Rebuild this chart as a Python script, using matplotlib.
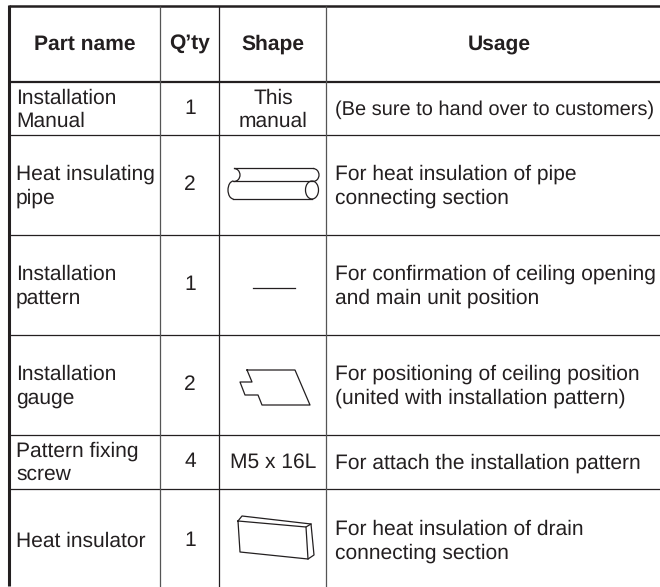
"""Accessory parts table, drawn on a pixel grid."""
import matplotlib.pyplot as plt
from matplotlib.patches import Arc

plt.rcParams['font.family'] = ['Liberation Sans', 'DejaVu Sans']
plt.rcParams['text.hinting'] = 'no_hinting'
plt.rcParams['text.hinting_factor'] = 1

HEADERS = ['Part name', 'Q’ty', 'Shape', 'Usage']
PARTS = ['Installation\nManual', 'Heat insulating\npipe', 'Installation\npattern',
         'Installation\ngauge', 'Pattern fixing\nscrew', 'Heat insulator']
QTY = ['1', '2', '1', '2', '4', '1']
SHAPES = ['This\nmanual', '', '', '', 'M5 x 16L', '']
USAGE = ['(Be sure to hand over to customers)',
         'For heat insulation of pipe\nconnecting section',
         'For confirmation of ceiling opening\nand main unit position',
         'For positioning of ceiling position\n(united with installation pattern)',
         'For attach the installation pattern',
         'For heat insulation of drain\nconnecting section']

COL_EDGES = [9, 160, 219, 326, 660]
ROW_EDGES = [6, 82, 135, 235, 335, 435, 488.5, 587]
ROW_CENTERS = [110, 186, 286, 386, 463, 541.5]
INK = '#231f20'
FS = 14.9

fig = plt.figure(figsize=(6.6, 5.87), dpi=100)
ax = fig.add_axes([0, 0, 1, 1])
ax.set_xlim(0, 660)
ax.set_ylim(587, 0)
ax.axis('off')

# grid
ax.plot([9, 660], [6, 6], color=INK, lw=1.8, solid_capstyle='butt')
ax.plot([9, 660], [82, 82], color=INK, lw=1.6, solid_capstyle='butt')
for y in ROW_EDGES[2:-1]:
    ax.plot([9, 660], [y, y], color=INK, lw=0.9, solid_capstyle='butt')
ax.plot([9, 9], [5, 586], color=INK, lw=2.2, solid_capstyle='butt')
for x, c in zip(COL_EDGES[1:-1], ['#555555', INK, '#555555']):
    ax.plot([x, x], [6, 587], color=c, lw=0.9, solid_capstyle='butt')

# text
for head, xc in zip(HEADERS, [85, 190, 273, 499]):
    ax.text(xc, 44, head, ha='center', va='center', fontsize=FS, fontweight='bold', color=INK)
for i, yc in enumerate(ROW_CENTERS):
    # one-line cells sit a touch higher than the two-line ones
    ax.text(16, yc, PARTS[i], ha='left', va='center', fontsize=FS, color=INK, linespacing=1.27)
    ax.text(190, yc - 1, QTY[i], ha='center', va='center', fontsize=FS, color=INK)
    if SHAPES[i]:
        ax.text(273, yc - (0 if '\n' in SHAPES[i] else 1), SHAPES[i], ha='center', va='center',
                fontsize=FS, color=INK, linespacing=1.27)
    # the first usage line is set a little narrower in the original
    ax.text(335, yc, USAGE[i], ha='left', va='center', fontsize=14.4 if i == 0 else FS,
            color=INK, linespacing=1.27)


def outline(xs, ys):
    ax.plot(xs, ys, color=INK, lw=0.9, solid_joinstyle='round')


def arc(x, y, w, h, t1, t2):
    ax.add_patch(Arc((x, y), w, h, theta1=t1, theta2=t2, color=INK, lw=0.9))


# pipe icon
outline([234, 313], [168, 168])
outline([233, 312], [181, 181])
outline([233, 312], [199, 199])
arc(313, 175, 12, 13, 270, 90)
arc(234, 175, 12, 13, 270, 90)
arc(233.5, 190, 11, 18, 90, 270)
arc(312, 190, 13, 18, 0, 360)
# dash for the installation pattern
outline([253, 295], [288, 288])
# gauge icon
outline([247, 295, 310, 262, 258, 245, 240, 252, 247],
        [370, 370, 405, 405, 395, 395, 382, 382, 370])
# insulator icon
outline([238, 242, 311, 314, 308, 240, 238], [521, 516, 524, 555, 559, 552, 521])
outline([238, 306, 311], [521, 527, 524])
outline([306, 308], [527, 559])

fig.savefig('out.png', dpi=100)
